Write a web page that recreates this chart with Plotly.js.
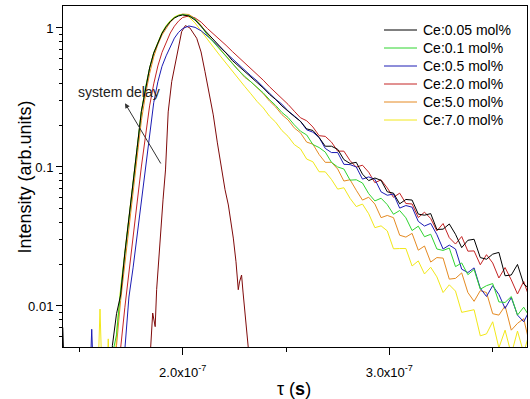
<!DOCTYPE html>
<html><head><meta charset="utf-8">
<script src="https://cdn.plot.ly/plotly-3.0.1.min.js"></script>
<style>html,body{margin:0;padding:0;background:#fff}#chart{width:530px;height:399px}</style>
</head><body><div id="chart"></div>
<script>
// time axis (ns), common to all Ce series
const timeNs = [142,144,146,148,150,152,154,156,158,160,162,164,166,168,170,172,174,176,178,180,182,184,186,188,190,192,194,196,198,200,
203,206,209,212,215,218,221,224,227,230,233,236,239,242,245,248,251,254,257,260,263,266,269,272,275,278,281,284,287,290,
293,296,299,302,305,308,311,314,317,320,323,326,329,332,335,338,341,344,347,350,353,356,359,362,365,368];

const ce005 = [0.007,0.0008,null,null,null,null,null,null,null,null,null,0.0009,0.0052,0.0088,0.012,0.024,0.042,0.077,0.138,0.25,0.37,0.515,0.66,0.79,0.915,1.02,1.11,1.18,1.22,1.24,
1.22,1.14,1.025,0.92,0.827,0.742,0.661,0.584,0.533,0.486,
0.446,0.403,0.370,0.333,0.306,0.275,0.250,0.231,
0.213,0.188,0.183,0.163,0.141,0.141,0.134,0.113,0.106,0.108,
0.0888,0.0798,0.0833,0.0801,0.0663,0.0648,0.0543,0.0584,0.0578,0.0458,
0.045,0.0462,0.0355,0.0357,0.0389,0.0328,0.0263,0.0297,0.0302,0.0223,
0.0217,0.0236,0.0243,0.0165,0.0167,0.0199,0.0144,0.0132];

const ce01 = [null,null,null,null,null,null,null,null,null,null,null,null,0.0045,0.0062,0.013,0.0233,0.0416,0.0767,0.137,0.249,0.37,0.515,0.661,0.793,0.92,1.03,1.12,1.19,1.23,1.25,
1.23,1.16,1.03,0.885,0.79,0.70,0.622,0.552,0.495,0.449,
0.411,0.372,0.341,0.305,0.277,0.247,0.227,0.201,
0.181,0.170,0.145,0.138,0.128,0.108,0.100,0.0967,0.0804,0.0809,
0.0767,0.0643,0.0570,0.0596,0.0536,0.0457,0.0486,0.0431,0.0349,0.0375,
0.0315,0.0328,0.0257,0.0251,0.0261,0.0192,0.0204,0.0168,0.0183,0.0132,
0.0140,0.0145,0.0107,0.0106,0.0117,0.0086,0.0098,0.0083];

const ce05 = [null,null,null,null,null,null,0.001,0.0068,0.001,null,null,null,null,null,0.002,0.0048,0.0116,0.0188,0.0324,0.058,0.10,0.18,0.29,0.41,0.53,0.63,0.74,0.845,0.93,0.99,
1.034,1.01,0.952,0.876,0.80,0.727,0.661,0.598,0.546,0.499,
0.453,0.416,0.375,0.344,0.307,0.283,0.253,0.233,
0.213,0.185,0.178,0.163,0.136,0.127,0.127,0.1045,0.104,0.100,
0.0818,0.0848,0.0815,0.0662,0.0626,0.0639,0.0506,0.0528,0.0514,0.0406,
0.0376,0.0393,0.0326,0.0257,0.0274,0.0257,0.0184,0.0174,0.0188,0.0134,
0.0117,0.0140,0.0121,0.0096,0.0115,0.0086,0.0077,0.0094];

const ce20 = [null,null,null,null,null,null,null,null,null,null,null,null,null,0.003,0.005,0.0097,0.018,0.0313,0.056,0.10,0.167,0.275,0.396,0.533,0.667,0.793,0.92,1.03,1.12,1.19,
1.22,1.18,1.10,0.99,0.905,0.82,0.75,0.678,0.618,0.562,
0.512,0.464,0.421,0.378,0.344,0.308,0.282,0.252,
0.226,0.215,0.194,0.168,0.166,0.151,0.130,0.130,0.111,0.0998,
0.103,0.0917,0.0771,0.0808,0.0707,0.0605,0.0648,0.0546,0.0542,0.0433,
0.0473,0.0426,0.0347,0.0392,0.0310,0.0279,0.0316,0.0248,0.0249,0.0198,
0.0234,0.0204,0.0159,0.0189,0.0154,0.0122,0.0150,0.0112];

const ce50 = [null,null,null,null,null,null,null,null,null,null,null,null,0.003,0.0052,0.011,0.020,0.036,0.066,0.118,0.215,0.33,0.47,0.62,0.76,0.89,1.0,1.1,1.18,1.23,1.26,
1.25,1.17,1.04,0.895,0.795,0.705,0.625,0.553,0.492,0.442,
0.41,0.371,0.337,0.298,0.270,0.238,0.218,0.191,
0.176,0.151,0.146,0.123,0.108,0.108,0.0967,0.0792,0.0809,0.068,
0.0578,0.0606,0.0541,0.0432,0.0448,0.0432,0.0323,0.0313,0.0333,0.0252,
0.027,0.0207,0.0223,0.0221,0.0156,0.0158,0.0173,0.0125,0.0108,0.0129,
0.0125,0.0088,0.0086,0.0100,0.0067,0.0075,0.0081,0.0052];

const ce70 = [null,null,null,null,null,null,null,null,0.001,0.0095,0.001,0.0058,0.001,0.0065,0.0135,0.024,0.043,0.079,0.14,0.25,0.37,0.515,0.665,0.80,0.93,1.04,1.13,1.2,1.24,1.25,
1.20,1.086,0.944,0.827,0.724,0.634,0.555,0.486,0.43,0.38,
0.336,0.296,0.266,0.232,0.210,0.183,0.166,0.145,
0.135,0.114,0.109,0.0924,0.0923,0.0813,0.0693,0.0709,0.0594,0.0519,
0.0541,0.0461,0.0366,0.0377,0.0347,0.0258,0.0259,0.0259,0.0194,0.0211,
0.0170,0.0190,0.0162,0.0125,0.0142,0.0128,0.0090,0.0092,0.0094,0.0061,
0.0063,0.0077,0.0050,0.0067,0.0045,0.0066,0.0046,0.0066];

// instrument response ("system delay")
const irfTimeNs = [183.9,184.5,185.5,186.4,186.7,187.4,189.0,190.5,191.7,193.0,194.7,197.1,199.5,201.3,203.5,206.8,208.9,210.8,212.7,214.8,216.8,218.9,220.5,222.1,224.5,225.8,226.9,227.5,228.5,229.2,230.1,231.1,232.1];
const irfValues = [0.0041,0.0050,0.0089,0.0077,0.0071,0.0131,0.030,0.058,0.0952,0.249,0.411,0.639,0.94,1.04,1.0,0.843,0.672,0.485,0.34,0.237,0.149,0.0925,0.0686,0.0533,0.0308,0.0208,0.0131,0.0149,0.0167,0.0126,0.0094,0.0062,0.0044];

const seriesNames = ['Ce:0.05 mol%','Ce:0.1 mol%','Ce:0.5 mol%','Ce:2.0 mol%','Ce:5.0 mol%','Ce:7.0 mol%'];
const seriesValues = [ce005, ce01, ce05, ce20, ce50, ce70];
const seriesColors = ['#000000','#2fd42f','#1c1cb4','#c42424','#e58a22','#f2e81a'];

const xTickVals = [2.0e-7, 3.0e-7];
const xTickText = ['2.0x10<sup>-7</sup>', '3.0x10<sup>-7</sup>'];
const xMinorVals = [1.5e-7, 2.5e-7, 3.5e-7];
const yTickVals = [0.01, 0.1, 1];
const yTickText = ['0.01', '0.1', '1'];
const yMinorVals = [0.006,0.007,0.008,0.009,0.02,0.03,0.04,0.05,0.06,0.07,0.08,0.09,0.2,0.3,0.4,0.5,0.6,0.7,0.8,0.9];

const toSec = arr => arr.map(v => v * 1e-9);

const traces = [{
  x: toSec(irfTimeNs), y: irfValues, mode: 'lines', showlegend: false, hoverinfo: 'skip',
  line: {color: '#7f0a0a', width: 1}
}];
for (let i = seriesNames.length - 1; i >= 0; i--) {
  traces.push({
    x: toSec(timeNs), y: seriesValues[i], name: seriesNames[i], mode: 'lines',
    line: {color: seriesColors[i], width: 1}, showlegend: false, connectgaps: false
  });
}

const FONT = 'Liberation Sans, Arial, sans-serif';

// plot area in pixels (for the legend block placed in paper coordinates)
const PL = 63, PR = 527, PT = 6, PB = 347;
const px2paperX = p => (p - PL) / (PR - PL);
const px2paperY = p => (PB - p) / (PB - PT);

const legendShapes = seriesNames.map((n, i) => ({
  type: 'line', xref: 'paper', yref: 'paper',
  x0: px2paperX(384), x1: px2paperX(417), y0: px2paperY(30 + 18 * i), y1: px2paperY(30 + 18 * i),
  line: {color: seriesColors[i], width: 1}
}));
const legendTexts = seriesNames.map((n, i) => ({
  xref: 'paper', yref: 'paper', x: px2paperX(421), y: px2paperY(30 + 18 * i),
  text: n, showarrow: false, xanchor: 'left', yanchor: 'middle',
  font: {family: FONT, size: 14, color: '#000'}
}));

const layout = {
  width: 530, height: 399,
  margin: {l: 63, r: 3, t: 6, b: 52, pad: 0},
  paper_bgcolor: '#ffffff', plot_bgcolor: '#ffffff',
  font: {family: FONT, size: 13, color: '#000'},
  showlegend: false,
  xaxis: {
    type: 'linear', range: [142.1e-9, 366.6e-9], showgrid: false, zeroline: false,
    showline: true, mirror: true, linecolor: '#000', linewidth: 1,
    ticks: 'outside', ticklen: 7, tickwidth: 1, tickcolor: '#000',
    tickmode: 'array', tickvals: xTickVals, ticktext: xTickText, ticklabelstandoff: 6,
    tickfont: {family: FONT, size: 13, color: '#000'},
    minor: {tickmode: 'array', tickvals: xMinorVals, ticks: 'outside', ticklen: 4, tickcolor: '#000', showgrid: false}
  },
  yaxis: {
    type: 'log', range: [-2.295, 0.158], showgrid: false, zeroline: false,
    showline: true, mirror: true, linecolor: '#000', linewidth: 1,
    ticks: 'outside', ticklen: 6, tickwidth: 1, tickcolor: '#000',
    tickmode: 'array', tickvals: yTickVals, ticktext: yTickText,
    tickfont: {family: FONT, size: 13, color: '#000'},
    minor: {tickmode: 'array', tickvals: yMinorVals, ticks: 'outside', ticklen: 3, tickcolor: '#000', showgrid: false}
  },
  shapes: legendShapes,
  annotations: [
    {xref: 'paper', yref: 'paper', x: -0.0819, y: 0.5, text: 'Intensity (arb.units)', textangle: -90,
      showarrow: false, font: {family: FONT, size: 18, color: '#000'}, xanchor: 'center', yanchor: 'middle'},
    {xref: 'paper', yref: 'paper', x: 0.498, y: -0.124, text: 'τ (<b>s</b>)',
      showarrow: false, font: {family: FONT, size: 18, color: '#000'}, xanchor: 'center', yanchor: 'middle'},
    {xref: 'x', yref: 'y', x: 148.4e-9, y: -0.46, text: 'system delay', showarrow: false,
      xanchor: 'left', yanchor: 'middle', font: {family: FONT, size: 14, color: '#222'}},
    {xref: 'x', yref: 'y', x: 172.1e-9, y: -0.5417, axref: 'x', ayref: 'y', ax: 189.84e-9, ay: -0.9856,
      text: '', showarrow: true, arrowhead: 2, arrowsize: 1, arrowwidth: 1, arrowcolor: '#333', standoff: 0, startstandoff: 0}
  ].concat(legendTexts)
};

Plotly.newPlot('chart', traces, layout, {displayModeBar: false, staticPlot: true});
</script>
</body></html>
